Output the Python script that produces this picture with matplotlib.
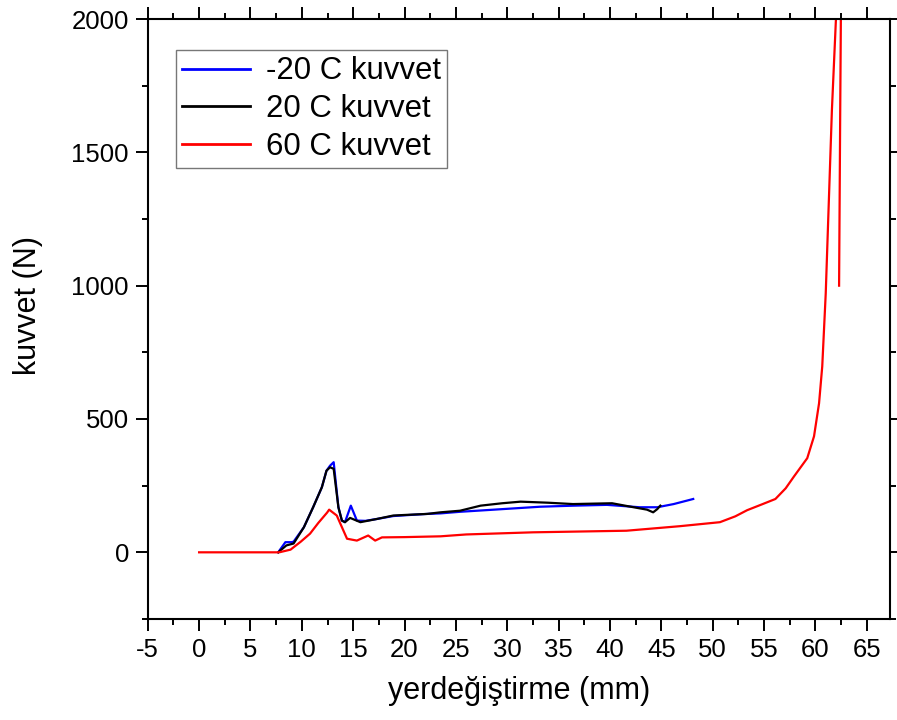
import numpy as np
import matplotlib
matplotlib.use('Agg')
import matplotlib.pyplot as plt
from matplotlib.ticker import MultipleLocator

plt.rcParams['font.family'] = ['Liberation Sans', 'DejaVu Sans']
plt.rcParams['axes.unicode_minus'] = False

# -20 C
x_m20 = [7.7, 8.4, 9.0, 9.2, 10.2, 11.1, 11.95, 12.4, 12.75, 13.1, 13.56, 13.9, 14.2,
         14.77, 15.36, 16.2, 17.3, 18.9, 20.5, 22.2, 23.5, 25.4, 28.3, 33.2, 36.5,
         39.7, 42.9, 44.6, 46.2, 48.1]
y_m20 = [0, 38, 38, 40, 94, 169, 244, 306, 325, 338, 169, 119, 113,
         175, 119, 118, 125, 136, 140, 144, 146, 152, 159, 171, 175,
         178, 169, 169, 181, 200]

# 20 C
x_20 = [7.7, 8.5, 9.2, 10.2, 11.1, 11.95, 12.4, 12.75, 13.1, 13.56, 13.9, 14.2, 14.7,
        15.7, 17.3, 18.9, 20.5, 22.2, 23.5, 25.4, 27.4, 29.5, 31.3, 34.0, 36.4,
        40.2, 42.3, 43.6, 44.2, 44.6, 44.9]
y_20 = [0, 26, 33, 94, 169, 244, 306, 319, 313, 169, 119, 113, 129,
        113, 125, 138, 141, 144, 150, 156, 175, 184, 190, 186, 181,
        184, 169, 160, 150, 162, 175]

# 60 C
x_60 = [0, 7.8, 8.9, 9.9, 10.8, 11.6, 12.46, 12.66, 13.4, 14.4, 15.36, 16.46, 17.14,
        17.8, 20.0, 23.5, 26.0, 32.5, 41.6, 46.8, 50.7, 52.2, 53.35, 54.8, 56.1,
        57.1, 57.9, 59.2, 59.86, 60.35, 60.66, 61.0, 61.3, 61.6, 61.98, 62.2, 62.5,
        62.4, 62.3]
y_60 = [0, 0, 10, 40, 70, 110, 149, 160, 138, 51, 44, 63, 44,
        56, 57, 60, 67, 75, 81, 98, 113, 135, 158, 180, 200,
        240, 284, 353, 435, 559, 697, 971, 1315, 1658, 1988, 2150, 2150,
        1600, 1000]

fig = plt.figure(figsize=(8.97, 7.2), dpi=100)
ax = fig.add_axes([0.1647, 0.1403, 0.828, 0.8333])

ax.plot(x_m20, y_m20, color='#0000ff', lw=1.6, label='-20 C kuvvet')
ax.plot(x_20, y_20, color='black', lw=1.6, label='20 C kuvvet')
ax.plot(x_60, y_60, color='#ff0000', lw=1.6, label='60 C kuvvet')

ax.set_xlim(-5, 67.3)
ax.set_ylim(-250, 2000)
ax.set_xticks(np.arange(-5, 66, 5))
ax.set_yticks([0, 500, 1000, 1500, 2000])
ax.xaxis.set_minor_locator(MultipleLocator(2.5))
ax.yaxis.set_minor_locator(MultipleLocator(250))

ax.tick_params(which='both', direction='out', top=True, right=True,
               labelsize=18.5, width=1.4, pad=5)
ax.tick_params(which='major', length=8.5)
ax.tick_params(which='minor', length=4.3)
for s in ax.spines.values():
    s.set_linewidth(1.5)

ax.set_xlabel('yerdeğiştirme (mm)', fontsize=22, labelpad=10)
ax.set_ylabel('kuvvet (N)', fontsize=22)
ax.yaxis.set_label_coords(-0.141, 0.523)

leg = ax.legend(loc='upper left', bbox_to_anchor=(0.0375, 0.948), fontsize=22.4,
                frameon=True, fancybox=False, edgecolor='#555555',
                handlelength=2.2, handletextpad=0.5, labelspacing=0.25,
                borderpad=0.2, borderaxespad=0)
leg.get_frame().set_linewidth(1.0)
for line in leg.get_lines():
    line.set_linewidth(2)

fig.savefig('out.png', dpi=100)
